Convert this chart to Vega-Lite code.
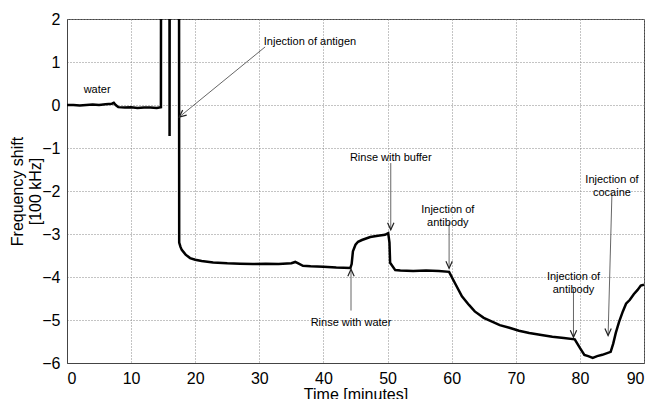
{
  "$schema": "https://vega.github.io/schema/vega-lite/v6.json",
  "width": 577,
  "height": 344,
  "autosize": "none",
  "padding": {"left": 67, "top": 19, "right": 9, "bottom": 36},
  "background": "white",
  "config": {
    "font": "Liberation Sans",
    "view": {"stroke": "#444", "strokeWidth": 1},
    "axis": {
      "labelFont": "Liberation Sans",
      "labelFontSize": 16,
      "labelColor": "black",
      "titleFont": "Liberation Sans",
      "titleFontSize": 16,
      "titleFontWeight": "normal",
      "titleColor": "black",
      "domainColor": "#444",
      "ticks": false,
      "labelPadding": 7
    },
    "axisX": {"grid": true, "gridColor": "#888", "gridDash": [1, 2], "gridWidth": 1},
    "axisY": {"grid": true, "gridColor": "#888", "gridDash": [1, 2], "gridWidth": 1}
  },
  "datasets": {
    "trace": [
      {"t": 0, "f": 0.0}, {"t": 1, "f": 0.0}, {"t": 2, "f": -0.01}, {"t": 3, "f": 0.0},
      {"t": 4, "f": 0.01}, {"t": 5, "f": 0.0}, {"t": 6, "f": 0.02}, {"t": 7, "f": 0.03},
      {"t": 7.3, "f": 0.05}, {"t": 7.6, "f": 0.0}, {"t": 8, "f": -0.05}, {"t": 9, "f": -0.06},
      {"t": 10, "f": -0.05}, {"t": 11, "f": -0.07}, {"t": 12, "f": -0.06}, {"t": 13, "f": -0.06},
      {"t": 14, "f": -0.07}, {"t": 14.65, "f": -0.05}, {"t": 14.7, "f": 10},
      {"t": 15.95, "f": 10}, {"t": 16.0, "f": -0.72}, {"t": 16.05, "f": 10},
      {"t": 17.45, "f": 10}, {"t": 17.5, "f": -3.2}, {"t": 17.7, "f": -3.3},
      {"t": 17.9, "f": -3.37}, {"t": 18.5, "f": -3.48}, {"t": 19.2, "f": -3.56},
      {"t": 20, "f": -3.6}, {"t": 21, "f": -3.63}, {"t": 22.8, "f": -3.66},
      {"t": 25, "f": -3.68}, {"t": 27, "f": -3.69}, {"t": 29, "f": -3.7},
      {"t": 31, "f": -3.69}, {"t": 33, "f": -3.7}, {"t": 35, "f": -3.68},
      {"t": 35.6, "f": -3.65}, {"t": 36, "f": -3.68}, {"t": 36.8, "f": -3.74},
      {"t": 38, "f": -3.75}, {"t": 40, "f": -3.76}, {"t": 42, "f": -3.78},
      {"t": 44.2, "f": -3.79}, {"t": 44.4, "f": -3.7}, {"t": 44.6, "f": -3.4},
      {"t": 45.0, "f": -3.25}, {"t": 45.4, "f": -3.18}, {"t": 46, "f": -3.14},
      {"t": 47.3, "f": -3.07}, {"t": 48.5, "f": -3.04}, {"t": 49.6, "f": -3.02},
      {"t": 50.1, "f": -2.98}, {"t": 50.3, "f": -3.2}, {"t": 50.4, "f": -3.67},
      {"t": 51.2, "f": -3.84}, {"t": 52, "f": -3.85}, {"t": 54, "f": -3.86},
      {"t": 56, "f": -3.85}, {"t": 58, "f": -3.86}, {"t": 59.6, "f": -3.88},
      {"t": 60.5, "f": -4.14}, {"t": 61.6, "f": -4.45}, {"t": 62.7, "f": -4.65},
      {"t": 63.6, "f": -4.8}, {"t": 65, "f": -4.95}, {"t": 66.3, "f": -5.04},
      {"t": 67.5, "f": -5.12}, {"t": 69, "f": -5.18}, {"t": 70.5, "f": -5.25},
      {"t": 72.1, "f": -5.3}, {"t": 74, "f": -5.35}, {"t": 75.7, "f": -5.39},
      {"t": 77.5, "f": -5.42}, {"t": 79.2, "f": -5.45}, {"t": 79.6, "f": -5.55},
      {"t": 80, "f": -5.65}, {"t": 80.7, "f": -5.81}, {"t": 81.3, "f": -5.84},
      {"t": 82, "f": -5.88}, {"t": 82.7, "f": -5.84}, {"t": 83.5, "f": -5.81},
      {"t": 84.8, "f": -5.74}, {"t": 85.2, "f": -5.55}, {"t": 85.6, "f": -5.3},
      {"t": 86.1, "f": -5.05}, {"t": 86.7, "f": -4.8}, {"t": 87.2, "f": -4.62},
      {"t": 87.8, "f": -4.53}, {"t": 88.4, "f": -4.4}, {"t": 89, "f": -4.3},
      {"t": 89.5, "f": -4.2}, {"t": 90, "f": -4.18}
    ],
    "labels": [
      {"label": "water", "t": 4.7, "f": 0.35},
      {"label": "Injection of antigen", "t": 37.9, "f": 1.47},
      {"label": "Rinse with buffer", "t": 50.5, "f": -1.24},
      {"label": "Injection of\nantibody", "t": 59.4, "f": -2.44},
      {"label": "Rinse with water", "t": 44.3, "f": -5.06},
      {"label": "Injection of\nantibody", "t": 79.0, "f": -4.0},
      {"label": "Injection of\ncocaine", "t": 85.0, "f": -1.75}
    ],
    "arrows": [
      {"name": "antigen", "t": 17.5, "f": -0.28, "t2": 30.9, "f2": 1.35},
      {"name": "buffer", "t": 50.5, "f": -2.9, "t2": 50.5, "f2": -1.35},
      {"name": "antibody1", "t": 59.6, "f": -3.8, "t2": 59.6, "f2": -2.73},
      {"name": "water", "t": 44.3, "f": -3.82, "t2": 44.3, "f2": -4.78},
      {"name": "antibody2", "t": 79.0, "f": -5.4, "t2": 79.0, "f2": -4.27},
      {"name": "cocaine", "t": 84.4, "f": -5.36, "t2": 85.0, "f2": -2.05}
    ]
  },
  "layer": [
    {
      "data": {"name": "trace"},
      "mark": {"type": "line", "color": "black", "strokeWidth": 2.5, "clip": true, "strokeJoin": "miter"},
      "encoding": {
        "x": {
          "field": "t", "type": "quantitative",
          "scale": {"domain": [0, 90], "nice": false, "zero": false},
          "axis": {"title": "Time [minutes]", "tickCount": 9, "titlePadding": 0}
        },
        "y": {
          "field": "f", "type": "quantitative",
          "scale": {"domain": [-6, 2], "nice": false, "zero": false},
          "axis": {"title": ["Frequency shift", "[100 kHz]"], "tickCount": 8, "titlePadding": -2}
        }
      }
    },
    {
      "data": {"name": "arrows"},
      "mark": {"type": "rule", "color": "#555", "strokeWidth": 0.9},
      "encoding": {
        "x": {"field": "t", "type": "quantitative"},
        "y": {"field": "f", "type": "quantitative"},
        "x2": {"field": "t2"}, "y2": {"field": "f2"}
      }
    },
    {
      "data": {"name": "arrows"},
      "transform": [{"filter": "datum.name == 'buffer' || datum.name == 'antibody1' || datum.name == 'antibody2' || datum.name == 'cocaine'"}],
      "mark": {"type": "point", "shape": "M-0.45,-1L0,0L0.45,-1", "filled": false, "stroke": "#222", "strokeWidth": 1.2, "size": 200, "angle": 0, "opacity": 1},
      "encoding": {"x": {"field": "t", "type": "quantitative"}, "y": {"field": "f", "type": "quantitative"}}
    },
    {
      "data": {"name": "arrows"},
      "transform": [{"filter": "datum.name == 'water'"}],
      "mark": {"type": "point", "shape": "M-0.45,-1L0,0L0.45,-1", "filled": false, "stroke": "#222", "strokeWidth": 1.2, "size": 200, "angle": 180, "opacity": 1},
      "encoding": {"x": {"field": "t", "type": "quantitative"}, "y": {"field": "f", "type": "quantitative"}}
    },
    {
      "data": {"name": "arrows"},
      "transform": [{"filter": "datum.name == 'antigen'"}],
      "mark": {"type": "point", "shape": "M-0.45,-1L0,0L0.45,-1", "filled": false, "stroke": "#222", "strokeWidth": 1.2, "size": 200, "angle": 51, "opacity": 1},
      "encoding": {"x": {"field": "t", "type": "quantitative"}, "y": {"field": "f", "type": "quantitative"}}
    },
    {
      "data": {"name": "labels"},
      "mark": {"type": "text", "fontSize": 11, "font": "Liberation Sans", "color": "black", "align": "center", "baseline": "middle", "lineBreak": "\n", "lineHeight": 13},
      "encoding": {"x": {"field": "t", "type": "quantitative"}, "y": {"field": "f", "type": "quantitative"}, "text": {"field": "label"}}
    }
  ]
}
